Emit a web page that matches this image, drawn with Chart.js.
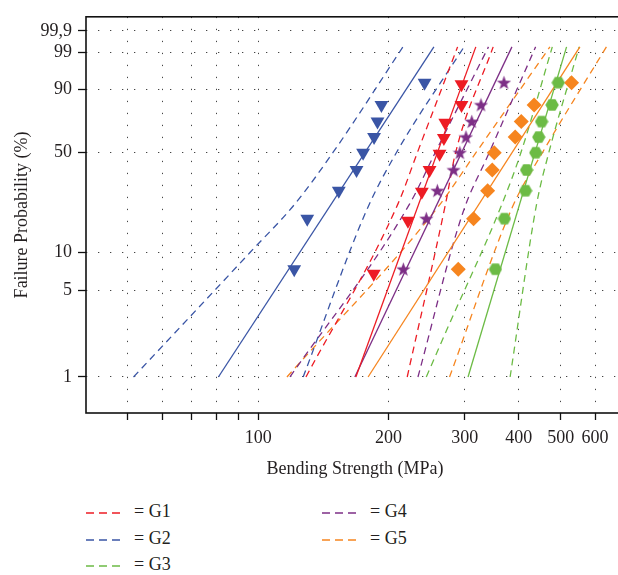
<!DOCTYPE html>
<html>
<head>
<meta charset="UTF-8">
<title>Weibull plot - bending strength</title>
<script src="https://cdn.jsdelivr.net/npm/chart.js"></script>
<style>
  html, body { margin: 0; padding: 0; background: #fff; overflow: hidden; width: 618px; height: 575px; }
  #wrap { position: relative; width: 632px; height: 485px; }
  .leg { position: absolute; font: 18px "Liberation Serif", serif; color: #231f20; white-space: nowrap; }
  .leg svg { vertical-align: middle; margin-right: 12px; }
</style>
</head>
<body>
<div id="wrap"><canvas id="weibull" width="632" height="485"></canvas></div>
<div id="legend"></div>
<script>
// groups and colours
const groups = ['G1', 'G2', 'G3', 'G4', 'G5'];
const colors = ['#ed1c24', '#3a55a5', '#6cbb45', '#7d2f86', '#f6851f'];

// failure probability (%) of the 9 specimens
const probG1 = [6.8, 17.5, 28.2, 39.4, 49.4, 60.0, 70.5, 81.9, 92.0];
const probRank = [7.4, 18.1, 28.7, 39.4, 50.0, 60.6, 71.3, 81.9, 92.6];

// measured bending strength (MPa)
const strengthG1 = [184.9, 221.8, 238.8, 248.8, 262.4, 268.5, 270.5, 294.9, 294.9];
const strengthG2 = [121.1, 129.8, 153.5, 168.7, 174.7, 185.2, 188.6, 192.6, 242.3];
const strengthG3 = [353.2, 370.6, 414.7, 416.9, 437.8, 444.9, 451.6, 477.5, 493.5];
const strengthG4 = [216.4, 244.5, 259.3, 282.7, 292.3, 302.0, 311.5, 327.1, 369.6];
const strengthG5 = [289.8, 314.4, 338.9, 347.3, 351.0, 392.4, 405.2, 434.0, 529.6];

// fitted Weibull lines: strength at 1 % and 99.4 %
const fitProb = [1, 99.4];
const fitG1 = [168.1, 318.2];
const fitG2 = [80.9, 254.6];
const fitG3 = [305.3, 515.7];
const fitG4 = [167.2, 385.6];
const fitG5 = [179.4, 553.6];

// confidence bounds: [probability %, strength MPa]
const lowG1 = [[1, 128.9], [23.2, 210.3], [50, 233.1], [99.4, 288.8]];
const highG1 = [[1, 220.9], [23.2, 270.9], [50, 285.7], [99.4, 349.0]];
const lowG2 = [[1, 51.5], [10, 95.7], [23.2, 121.6], [50, 148.7], [99.4, 216.0]];
const highG2 = [[1, 127.0], [20.8, 177.9], [50, 208.5], [99.4, 298.9]];
const lowG3 = [[1, 244.5], [2.5, 273.8], [22, 363.4], [50, 404.4], [99.4, 478.0]];
const highG3 = [[1, 381.9], [23.2, 439.8], [50, 469.2], [99.4, 551.5]];
const lowG4 = [[1, 118.4], [23.2, 223.8], [50, 256.3], [99.4, 340.4]];
const highG4 = [[1, 233.9], [19.7, 296.5], [50, 341.7], [99.4, 437.4]];
const lowG5 = [[1, 116.5], [22, 260.1], [50, 318.4], [99.4, 472.1]];
const highG5 = [[1, 276.7], [22, 386.6], [50, 453.3], [99.4, 637.6]];

// axis ticks
const xTicks = [50, 60, 70, 80, 90, 100, 200, 300, 400, 500, 600, 700];
const xLabels = [100, 200, 300, 400, 500, 600];
const yTicks = [1, 5, 10, 50, 90, 99, 99.9];
const yLabels = ['1', '5', '10', '50', '90', '99', '99,9'];

// weibull probability transform
const wb = p => Math.log(-Math.log(1 - p / 100));

function shapeImg(kind, color, size) {
  const c = document.createElement('canvas');
  c.width = c.height = size;
  const g = c.getContext('2d');
  const m = size / 2;
  g.fillStyle = color;
  g.beginPath();
  if (kind === 'star') {
    for (let i = 0; i < 10; i++) {
      const r = i % 2 ? size * 0.2 : size / 2;
      const a = -Math.PI / 2 + i * Math.PI / 5;
      g.lineTo(m + r * Math.cos(a), m + 0.5 + r * Math.sin(a));
    }
  } else {
    for (let i = 0; i < 6; i++) {
      const a = i * Math.PI / 3;
      g.lineTo(m + (m - 0.3) * Math.cos(a), m + (m - 0.3) * Math.sin(a));
    }
  }
  g.closePath();
  g.fill();
  return c;
}

const markers = [
  { style: 'triangle', rot: 180, r: 8 },
  { style: 'triangle', rot: 180, r: 8 },
  { style: shapeImg('hex', colors[2], 14), rot: 0, r: 7 },
  { style: shapeImg('star', colors[3], 15), rot: 0, r: 7 },
  { style: 'rectRot', rot: 0, r: 7.5 }
];

const strengths = [strengthG1, strengthG2, strengthG3, strengthG4, strengthG5];
const probs = [probG1, probRank, probRank, probRank, probRank];
const fits = [fitG1, fitG2, fitG3, fitG4, fitG5];
const lows = [lowG1, lowG2, lowG3, lowG4, lowG5];
const highs = [highG1, highG2, highG3, highG4, highG5];

const datasets = [];
groups.forEach((g, i) => {
  datasets.push({
    label: g + ' data',
    data: strengths[i].map((s, k) => ({ x: s, y: wb(probs[i][k]) })),
    pointStyle: markers[i].style,
    rotation: markers[i].rot,
    pointRadius: markers[i].r,
    backgroundColor: colors[i],
    borderColor: colors[i],
    borderWidth: 0,
    showLine: false,
    order: 0
  });
  datasets.push({
    label: g + ' fit',
    data: fits[i].map((s, k) => ({ x: s, y: wb(fitProb[k]) })),
    borderColor: colors[i],
    borderWidth: 1.3,
    showLine: true,
    pointRadius: 0,
    order: 1
  });
  [lows[i], highs[i]].forEach(b => {
    datasets.push({
      label: g + ' bound',
      data: b.map(p => ({ x: p[1], y: wb(p[0]) })),
      borderColor: colors[i],
      borderWidth: 1.3,
      borderDash: [7, 5],
      showLine: true,
      cubicInterpolationMode: 'monotone',
      pointRadius: 0,
      order: 2
    });
  });
});

const frame = {
  id: 'frame',
  afterDraw(chart) {
    const a = chart.chartArea, ctx = chart.ctx;
    ctx.save();
    ctx.strokeStyle = '#111';
    ctx.lineWidth = 1.6;
    ctx.strokeRect(a.left, a.top, a.right - a.left, a.bottom - a.top);
    ctx.restore();
  }
};

const font = { family: '"Liberation Serif", serif', size: 18 };

new Chart(document.getElementById('weibull'), {
  type: 'scatter',
  data: { datasets },
  options: {
    responsive: false,
    animation: false,
    layout: { padding: { top: 9, right: 7, left: 0, bottom: 0 } },
    plugins: { legend: { display: false }, tooltip: { enabled: false } },
    scales: {
      x: {
        type: 'logarithmic',
        min: 40, max: 700,
        afterBuildTicks: s => { s.ticks = xTicks.map(v => ({ value: v })); },
        afterFit: s => { s.height = 72; },
        ticks: {
          autoSkip: false, maxRotation: 0, padding: 7, color: '#231f20', font,
          callback: v => xLabels.includes(v) ? String(v) : ''
        },
        grid: { color: '#444', lineWidth: 1, tickColor: '#111', tickWidth: 1.3, tickLength: 7, tickBorderDash: [] },
        border: { display: false, dash: [1.3, 10.7] },
        title: { display: true, text: 'Bending Strength (MPa)', color: '#231f20', font, padding: { top: 0, bottom: 5 } }
      },
      y: {
        type: 'linear',
        min: -5.28, max: 2.2,
        afterBuildTicks: s => { s.ticks = yTicks.map(v => ({ value: wb(v) })); },
        afterFit: s => { s.width = 86; },
        ticks: {
          autoSkip: false, padding: 6, color: '#231f20', font,
          callback: (v, i) => yLabels[i]
        },
        grid: { color: '#444', lineWidth: 1, tickColor: '#111', tickWidth: 1.3, tickLength: 8, tickBorderDash: [] },
        border: { display: false, dash: [1.3, 10.7] },
        title: { display: true, text: 'Failure Probability (%)', color: '#231f20', font, padding: { top: 11, bottom: 0 } }
      }
    }
  },
  plugins: [frame]
});

// legend below the chart, two columns
const legPos = [[86, 512], [86, 539], [86, 565], [322, 512], [322, 539]];
const legend = document.getElementById('legend');
groups.forEach((g, i) => {
  const d = document.createElement('div');
  d.className = 'leg';
  d.style.left = legPos[i][0] + 'px';
  d.style.top = (legPos[i][1] - 11) + 'px';
  d.innerHTML = '<svg width="36" height="4"><line x1="0" y1="2" x2="36" y2="2" stroke="' + colors[i] +
    '" stroke-width="1.6" stroke-dasharray="8,5"/></svg>= ' + g;
  legend.appendChild(d);
});
</script>
</body>
</html>
